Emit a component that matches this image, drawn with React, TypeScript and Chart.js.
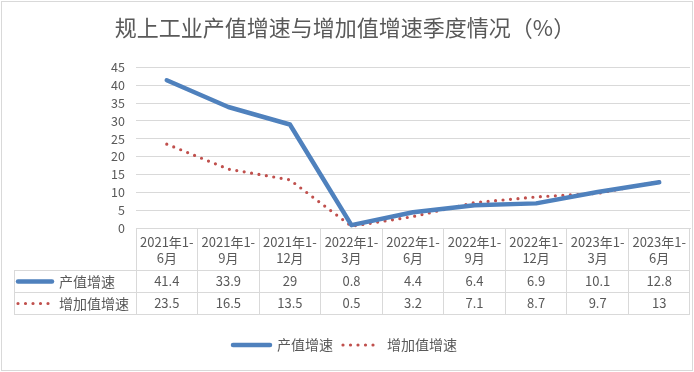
import { useEffect, useRef } from 'react';
import { Chart, registerables } from 'chart.js';

Chart.register(...registerables);

const chartTitle = '规上工业产值增速与增加值增速季度情况（%）';
const categories = [
  '2021年1-6月',
  '2021年1-9月',
  '2021年1-12月',
  '2022年1-3月',
  '2022年1-6月',
  '2022年1-9月',
  '2022年1-12月',
  '2023年1-3月',
  '2023年1-6月',
];
const seriesNames = ['产值增速', '增加值增速'];
const outputGrowth = [41.4, 33.9, 29, 0.8, 4.4, 6.4, 6.9, 10.1, 12.8];
const valueAddedGrowth = [23.5, 16.5, 13.5, 0.5, 3.2, 7.1, 8.7, 9.7, 13];
const yMin = 0;
const yMax = 45;
const yStep = 5;

const FONT = '"Noto Sans CJK SC", "Noto Sans", sans-serif';
const TEXT = '#595959';
const GRID = '#d9d9d9';
const BLUE = '#4f81bd';
const RED = '#c0504d';

const HEADER_H = 42;
const ROW_H = 22;
const TABLE_LEFT = 14;

const tablePlugin = {
  id: 'dataTable',
  beforeDraw(chart: any) {
    const ctx = chart.ctx;
    ctx.save();
    ctx.fillStyle = '#ffffff';
    ctx.fillRect(0, 0, chart.width, chart.height);
    ctx.strokeStyle = GRID;
    ctx.lineWidth = 1;
    ctx.strokeRect(1.5, 1.5, chart.width - 3, chart.height - 3);
    ctx.restore();
  },
  afterDraw(chart: any) {
    const ctx = chart.ctx;
    const xs = chart.scales.x;
    const base = chart.chartArea.bottom;
    const right = xs.right;
    ctx.save();
    ctx.strokeStyle = GRID;
    ctx.lineWidth = 1;
    ctx.beginPath();
    [HEADER_H, HEADER_H + ROW_H, HEADER_H + 2 * ROW_H].forEach((off) => {
      const y = Math.round(base + off) + 0.5;
      ctx.moveTo(TABLE_LEFT, y);
      ctx.lineTo(right, y);
    });
    ctx.moveTo(TABLE_LEFT + 0.5, Math.round(base + HEADER_H));
    ctx.lineTo(TABLE_LEFT + 0.5, Math.round(base + HEADER_H + 2 * ROW_H) + 1);
    ctx.stroke();

    chart.data.datasets.forEach((ds: any, r: number) => {
      const cy = base + HEADER_H + ROW_H / 2 + r * ROW_H + 0.5;
      ctx.save();
      ctx.strokeStyle = ds.borderColor;
      ctx.lineWidth = ds.borderWidth;
      ctx.lineCap = ds.borderCapStyle || 'butt';
      ctx.setLineDash(ds.borderDash || []);
      ctx.beginPath();
      ctx.moveTo(18, cy);
      ctx.lineTo(r === 0 ? 52 : 50, cy);
      ctx.stroke();
      ctx.restore();

      ctx.fillStyle = TEXT;
      ctx.textBaseline = 'middle';
      ctx.textAlign = 'left';
      ctx.font = `14px ${FONT}`;
      ctx.fillText(ds.label, 59, cy);

      ctx.textAlign = 'center';
      ctx.font = `13px ${FONT}`;
      ds.data.forEach((v: number, i: number) => {
        ctx.fillText(String(v), xs.getPixelForValue(i), cy);
      });
    });
    ctx.restore();
  },
};

export default function App() {
  const canvasRef = useRef<HTMLCanvasElement | null>(null);

  useEffect(() => {
    if (!canvasRef.current) return;
    const chart = new Chart(canvasRef.current, {
      type: 'line',
      data: {
        labels: categories,
        datasets: [
          {
            label: seriesNames[0],
            data: outputGrowth,
            borderColor: BLUE,
            backgroundColor: BLUE,
            borderWidth: 4.5,
            borderCapStyle: 'round',
            borderJoinStyle: 'round',
            pointRadius: 0,
            pointHoverRadius: 0,
            tension: 0,
            fill: false,
          },
          {
            label: seriesNames[1],
            data: valueAddedGrowth,
            borderColor: RED,
            backgroundColor: RED,
            borderWidth: 3.2,
            borderCapStyle: 'round',
            borderJoinStyle: 'round',
            borderDash: [0, 7.5],
            pointRadius: 0,
            pointHoverRadius: 0,
            tension: 0,
            fill: false,
          },
        ],
      },
      options: {
        responsive: false,
        animation: false,
        devicePixelRatio: 1,
        layout: { padding: { left: 0, right: 4, top: 0, bottom: 10 } },
        plugins: {
          title: {
            display: true,
            text: chartTitle,
            color: TEXT,
            font: { family: FONT, size: 22, weight: 'normal', lineHeight: 1.2 },
            padding: { top: 14, bottom: 27 },
          },
          legend: {
            position: 'bottom',
            labels: {
              usePointStyle: true,
              pointStyle: 'line',
              pointStyleWidth: 37,
              color: TEXT,
              font: { family: FONT, size: 14 },
              padding: 10,
              generateLabels: (c: any) =>
                c.data.datasets.map((ds: any, i: number) => ({
                  text: ds.label,
                  fillStyle: ds.borderColor,
                  strokeStyle: ds.borderColor,
                  lineWidth: ds.borderWidth,
                  lineDash: ds.borderDash || [],
                  lineCap: ds.borderCapStyle,
                  pointStyle: 'line',
                  hidden: false,
                  datasetIndex: i,
                  fontColor: TEXT,
                })),
            },
          },
          tooltip: { enabled: false },
        },
        scales: {
          x: {
            offset: true,
            grid: {
              display: true,
              offset: true,
              drawOnChartArea: false,
              drawTicks: true,
              tickLength: HEADER_H + 2 * ROW_H,
              color: GRID,
            },
            border: { display: true, color: GRID },
            ticks: {
              autoSkip: false,
              maxRotation: 0,
              minRotation: 0,
              padding: -80,
              color: TEXT,
              font: { family: FONT, size: 13, lineHeight: 1.23 },
              callback: function (this: any, value: any) {
                const s: string = this.getLabelForValue(value);
                const k = s.indexOf('-');
                return [s.slice(0, k + 1), s.slice(k + 1)];
              },
            },
            afterFit: (scale: any) => {
              scale.height = 100;
            },
          },
          y: {
            min: yMin,
            max: yMax,
            grid: { color: GRID, drawTicks: false },
            border: { display: false },
            ticks: {
              stepSize: yStep,
              autoSkip: false,
              padding: 11,
              color: TEXT,
              font: { family: FONT, size: 12.5 },
            },
            afterFit: (scale: any) => {
              scale.width = 136;
            },
          },
        },
      },
      plugins: [tablePlugin],
    } as any);
    return () => chart.destroy();
  }, []);

  return (
    <div style={{ position: 'fixed', left: 0, top: 0, width: 694, height: 372, background: '#fff' }}>
      <canvas ref={canvasRef} width={694} height={372} style={{ display: 'block' }} />
    </div>
  );
}
